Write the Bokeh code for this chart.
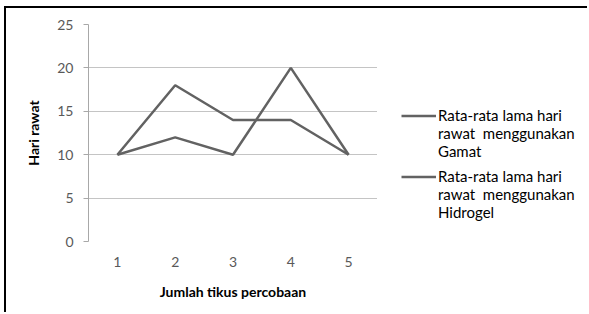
from bokeh.plotting import figure
from bokeh.models import Legend, LegendItem, FixedTicker, Range1d
from bokeh.layouts import row
from bokeh.embed import file_html
from bokeh.resources import INLINE

# data
categories = [1, 2, 3, 4, 5]
gamat = [10, 18, 14, 14, 10]
hidrogel = [10, 12, 10, 20, 10]
y_ticks = [0, 5, 10, 15, 20, 25]
label_gamat = ["Rata-rata lama hari", "rawat  menggunakan", "Gamat"]
label_hidrogel = ["Rata-rata lama hari", "rawat  menggunakan", "Hidrogel"]

FONT = "Lato"
LINE = "#626262"
H = 304

p = figure(width=371, height=H, output_backend="svg", toolbar_location=None,
           x_range=Range1d(0.5, 5.5), y_range=Range1d(0, 25),
           min_border_left=82, min_border_right=0, min_border_top=16,
           min_border_bottom=71)
p.outline_line_color = None

r1 = p.line(categories, gamat, line_color=LINE, line_width=2.5)
r2 = p.line(categories, hidrogel, line_color=LINE, line_width=2.5)

p.xgrid.grid_line_color = None
p.ygrid.grid_line_color = "#c4c4c4"
p.ygrid.grid_line_width = 1

p.xaxis.ticker = FixedTicker(ticks=categories)
p.yaxis.ticker = FixedTicker(ticks=y_ticks)
for ax in (p.xaxis[0], p.yaxis[0]):
    ax.axis_line_color = "#a8a8a8"
    ax.major_tick_line_color = "#a8a8a8"
    ax.minor_tick_line_color = None
    ax.major_label_text_font = FONT
    ax.major_label_text_font_size = "14px"
    ax.major_label_text_color = "#595959"
    ax.axis_label_text_font = FONT
    ax.axis_label_text_font_size = "14px"
    ax.axis_label_text_font_style = "bold"
    ax.axis_label_text_color = "#000000"

p.xaxis.major_tick_out = 0
p.xaxis.major_tick_in = 0
p.xaxis.major_label_standoff = 15
p.xaxis.axis_label = "Jumlah tikus percobaan"
p.xaxis.axis_label_standoff = 13
p.xaxis.axis_line_color = None

p.yaxis.major_tick_out = 5
p.yaxis.major_tick_in = 0
p.yaxis.major_label_standoff = 10
p.yaxis.axis_label = "Hari rawat"
p.yaxis.axis_label_standoff = 12

# legend panel (a second figure holding only the legend)
LW = 210
q = figure(width=LW, height=H, output_backend="svg", toolbar_location=None,
           x_range=Range1d(100, 101), y_range=Range1d(100, 101),
           min_border=0, x_axis_type=None, y_axis_type=None)
q.grid.visible = False
q.outline_line_color = None

sample_g = q.line(categories, gamat, line_color=LINE, line_width=2.5)
sample_h = q.line(categories, hidrogel, line_color=LINE, line_width=2.5)
blank = q.line(categories, gamat, line_alpha=0)


def make_legend(lines, renderer, loc):
    items = [LegendItem(label=lines[0], renderers=[renderer])]
    items += [LegendItem(label=t, renderers=[blank]) for t in lines[1:]]
    lg = Legend(items=items, location=loc)
    lg.border_line_color = None
    lg.background_fill_alpha = 0
    lg.inactive_fill_alpha = 0
    lg.padding = 0
    lg.margin = 0
    lg.spacing = 0
    lg.glyph_width = 35
    lg.glyph_height = 17
    lg.label_height = 17
    lg.label_standoff = 2
    lg.label_text_font = FONT
    lg.label_text_font_size = "15px"
    lg.label_text_color = "#000000"
    return lg


q.add_layout(make_legend(label_gamat, sample_g, (24, 81)), "center")
q.add_layout(make_legend(label_hidrogel, sample_h, (24, 20)), "center")

layout = row(p, q)
layout.styles = {"border-top": "2px solid #000", "border-left": "2px solid #000",
                 "margin-left": "4px", "margin-top": "6px"}

open("out.html", "w").write(file_html(layout, INLINE))
